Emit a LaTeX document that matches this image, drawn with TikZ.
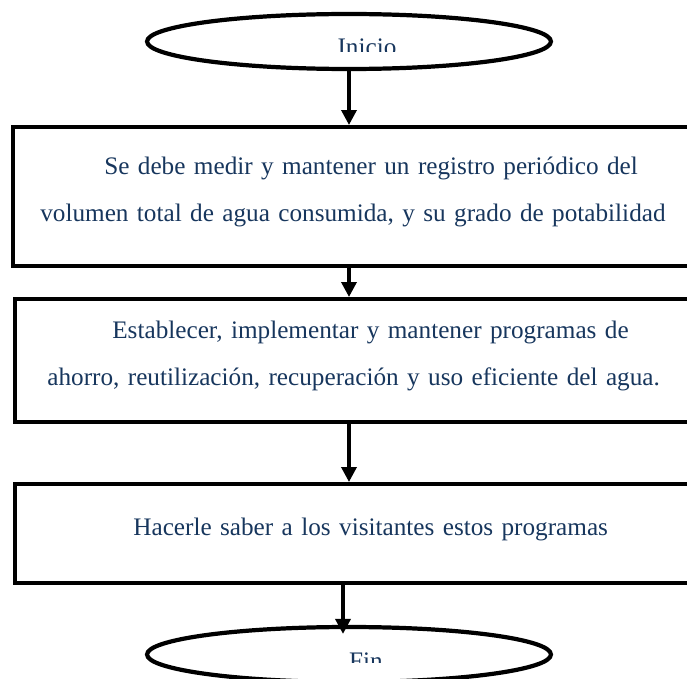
\documentclass[tikz,border=0pt]{standalone}
\usepackage{fontspec}
\setmainfont{Liberation Serif}
\usetikzlibrary{shapes.geometric,arrows.meta}
\definecolor{textblue}{RGB}{23,54,93}
\begin{document}
\begin{tikzpicture}[x=0.02cm,y=-0.02cm,
  box/.style={draw,line width=2.3pt,rectangle,anchor=north west,minimum width=13.7cm},
  term/.style={draw,line width=2.4pt,ellipse,minimum width=8.08cm,minimum height=1.1cm,inner sep=0pt},
  lbl/.style={anchor=base,inner sep=0pt,text=textblue,font=\fontsize{14.35}{26.8}\selectfont},
  txt/.style={lbl,anchor=base west,text width=13cm,align=left},
  flow/.style={line width=2pt,-{Triangle[width=0.3cm,length=0.3cm]}}]
\useasboundingbox (0,0) rectangle (687,679);
\clip (0,0) rectangle (687,679);

\node[term] (inicio) at (349,41.5) {};
\node[term] (fin) at (349,654.5) {};
\begin{scope}
\clip (280,30) rectangle (440,52);
\node[lbl] (iniciotxt) at (367,56) {Inicio};
\end{scope}
\begin{scope}
\clip (280,640) rectangle (440,662);
\node[lbl] (fintxt) at (366,669) {Fin};
\end{scope}

\node[box,minimum height=2.78cm] (medir) at (11,125) {};
\node[box,minimum height=2.46cm] (ahorro) at (13,297) {};
\node[box,minimum height=1.98cm] (visitantes) at (13,482) {};

\node[txt] (medirtxt) at (40,174) {\hspace*{1.28cm}Se debe medir y mantener un registro periódico del\\volumen total de agua consumida, y su grado de potabilidad};
\node[txt] (ahorrotxt) at (47,338) {\hspace*{1.3cm}Establecer, implementar y mantener programas de\\ahorro, reutilización, recuperación y uso eficiente del agua.};
\node[txt] (visitantestxt) at (133,535) {Hacerle saber a los visitantes estos programas};

\draw[flow] (inicio.south) -- (inicio.south |- medir.north);
\draw[flow] (medir.south -| inicio.south) -- (ahorro.north -| inicio.south);
\draw[flow] (ahorro.south -| inicio.south) -- (visitantes.north -| inicio.south);
\draw[flow] ([xshift=-0.12cm]visitantes.south -| fin.north) -- ([xshift=-0.12cm,yshift=-0.18cm]fin.north);
\end{tikzpicture}
\end{document}
